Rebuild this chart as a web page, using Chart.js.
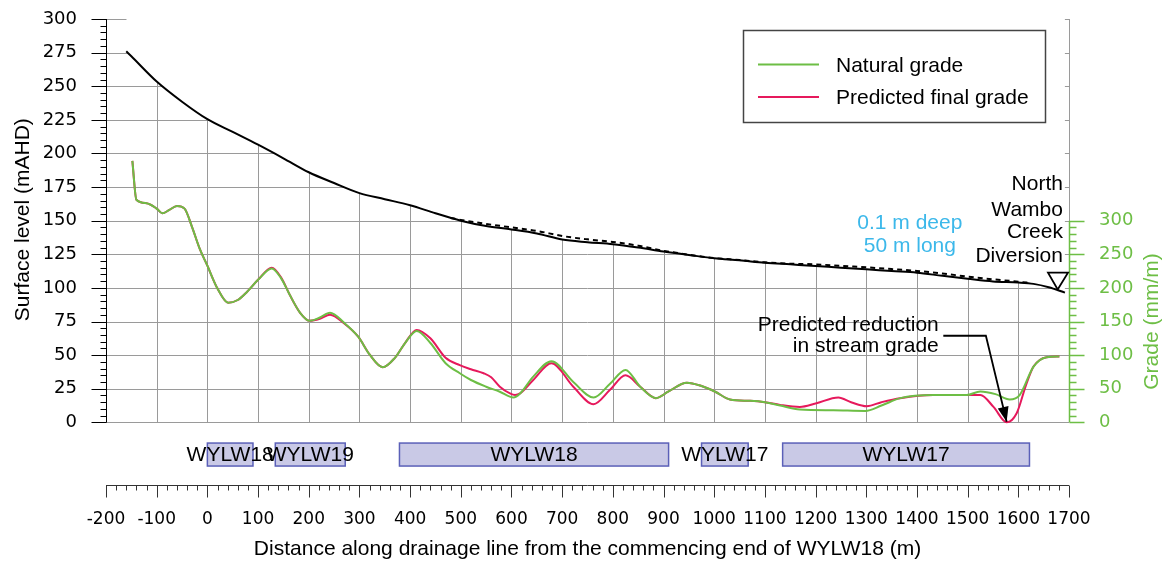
<!DOCTYPE html>
<html><head><meta charset="utf-8">
<script src="https://cdn.jsdelivr.net/npm/chart.js@4.4.1/dist/chart.umd.min.js"></script>
<style>html,body{margin:0;padding:0;background:#fff;}canvas{display:block;}</style>
</head><body>
<canvas id="c" width="1168" height="572"></canvas>
<script>
// ---------------- data ----------------
const X_MIN = -200, X_MAX = 1700;
const Y_TICKS = [0,25,50,75,100,125,150,175,200,225,250,275,300];
const G_TICKS = [0,50,100,150,200,250,300];

// predicted surface (solid black), mAHD
const SURFACE_X = [-160,-150,-100,-50,0,50,100,150,200,250,300,350,400,450,500,550,600,650,700,750,800,850,900,950,1000,1050,1100,1150,1200,1250,1300,1350,1400,1450,1500,1550,1600,1630,1660,1692];
const SURFACE_Y = [276,272.3,253.5,238.5,225.5,216,206.5,196.4,186,178,170.5,166,161.5,155.5,150,146,143.5,140.5,136,134,132.5,130,127,124.5,122,120.5,118.7,117.5,116.3,115,113.8,112.5,111.3,109,106.8,104.8,104,103,100.5,96.5];

// natural surface (dashed black), mAHD
const NATURAL_SURFACE_X = [480,500,550,600,650,700,750,800,850,900,950,1000,1050,1100,1150,1200,1250,1300,1350,1400,1450,1500,1550,1600,1625];
const NATURAL_SURFACE_Y = [152,150.6,147.6,145,142.4,138.6,136.1,134.2,131.4,127.6,124.7,122.2,120.7,119,118,117.5,116.4,115.3,114,112.6,110.7,108.4,106.4,104.6,103.6];

// natural grade (mm/m)
const NAT_GRADE_X = [-148,-140,-120,-100,-89,-75,-60,-45,-30,-15,0,20,41,60,78,100,127,145,163,183,202,222,242,270,298,320,346,370,390,413,440,470,498,520,550,577,604,617,643,679,722,762,794,825,854,885,910,946,975,1002,1031,1071,1100,1130,1169,1235,1298,1330,1367,1432,1498,1525,1555,1583,1603,1630,1656,1681];
const NAT_GRADE   = [389,331,326,318,311,316,322,318,290,258,233,199,178,182,194,212,229,215,189,163,151,156,163,148,127,101,82,96,118,136,118,88,73,63,53,45.5,37,43,68,91,60,37,57,78,53,36,46,59,54,45.5,34,32,30,25,19,18,17,25,36,40.6,40.6,46,42,34,41,83,97,98];

// predicted final grade (mm/m)
const PRED_GRADE_X = [-148,-140,-120,-100,-89,-75,-60,-45,-30,-15,0,20,41,60,78,100,127,145,163,183,202,222,242,270,298,320,346,370,390,413,440,470,498,520,545,560,577,597,607,617,643,679,722,762,794,825,854,885,910,946,975,1002,1031,1071,1100,1130,1169,1200,1245,1270,1301,1330,1367,1432,1498,1525,1551,1577,1597,1615,1630,1656,1681];
const PRED_GRADE   = [389,331,326,318,311,316,322,318,290,258,233,199,178,182,194,212,230,216,189,163,151,154,160,147,127,101,82,96,118,137.5,125,96,85,79,73,67,53,43,40.6,43,63,88,53,27,48,70,53,36,46,59,54,45.5,34,32,30,26,23,28,37,30,24,30,36,40.6,40.6,40.6,23,0,14,55,83,97,98];

// longwall panels along the drainage line
const PANEL_NAMES = ['WYLW18','WYLW19','WYLW18','WYLW17','WYLW17'];
const PANEL_START = [0,134,379,975,1135];
const PANEL_END   = [90,272,910,1067,1622];

// text
const Y_TITLE = 'Surface level (mAHD)';
const G_TITLE = 'Grade (mm/m)';
const X_TITLE = 'Distance along drainage line from the commencing end of WYLW18 (m)';
const NOTE_BLUE = ['0.1 m deep','50 m long'];
const NOTE_CREEK = ['North','Wambo','Creek','Diversion'];
const NOTE_ARROW = ['Predicted reduction','in stream grade'];

// ---------------- style ----------------
const GREEN = '#6dbe45', RED = '#e6195c', BLUE = '#3cb8ea';
const GRID = '#9a9a9a';
const FONT = '"Liberation Sans", Arial, sans-serif';
const TICKFONT = '"DejaVu Sans", sans-serif';
Chart.defaults.font.family = FONT;

const pts = (xs, ys) => xs.map((v, i) => ({x: v, y: ys[i]}));
const hiddenTicks = len => ({ display: true, drawOnChartArea: false, drawTicks: true, tickLength: len, color: 'rgba(0,0,0,0)' });

const gridPlugin = {
  id: 'profileGrid',
  beforeDatasetsDraw(chart) {
    const {ctx, scales: {x, y}} = chart;
    ctx.save();
    ctx.strokeStyle = GRID; ctx.lineWidth = 1;
    const x0 = x.getPixelForValue(X_MIN), x1 = x.getPixelForValue(X_MAX);
    const yb = y.getPixelForValue(0), yt = y.getPixelForValue(300);
    ctx.beginPath();
    for (const v of Y_TICKS) { const p = Math.round(y.getPixelForValue(v)) + 0.5; ctx.moveTo(x0, p); ctx.lineTo(x1, p); }
    for (let v = X_MIN; v <= X_MAX; v += 100) { const p = Math.round(x.getPixelForValue(v)) + 0.5; ctx.moveTo(p, yb); ctx.lineTo(p, yt); }
    ctx.stroke();
    ctx.restore();
  }
};

const decorPlugin = {
  id: 'decor',
  afterDraw(chart) {
    const {ctx, chartArea, scales: {x, y, g}} = chart;
    const X = v => x.getPixelForValue(v), Y = v => y.getPixelForValue(v), G = v => g.getPixelForValue(v);
    ctx.save();
    // left axis
    ctx.strokeStyle = '#000'; ctx.lineWidth = 1;
    const lx = Math.round(X(X_MIN)) + 0.5;
    ctx.beginPath();
    ctx.moveTo(lx, Y(0)); ctx.lineTo(lx, Y(300));
    for (let v = 0; v <= 300; v += 5) { const p = Math.round(Y(v)) + 0.5; const len = v % 25 === 0 ? 15 : 6; ctx.moveTo(lx, p); ctx.lineTo(lx - len, p); }
    ctx.stroke();
    // right axis
    ctx.strokeStyle = GREEN; ctx.lineWidth = 1.5;
    const rx = Math.round(X(X_MAX)) + 0.5;
    ctx.beginPath();
    ctx.moveTo(rx, G(0)); ctx.lineTo(rx, G(300));
    for (let v = 0; v <= 300; v += 10) { const p = Math.round(G(v)) + 0.5; const len = v % 50 === 0 ? 15 : 7; ctx.moveTo(rx, p); ctx.lineTo(rx + len, p); }
    ctx.stroke();
    // bottom axis
    ctx.strokeStyle = '#333'; ctx.lineWidth = 1;
    const by = Math.round(chartArea.bottom) + 0.5;
    ctx.beginPath();
    ctx.moveTo(X(X_MIN), by); ctx.lineTo(X(X_MAX), by);
    for (let v = X_MIN; v <= X_MAX; v += 20) { const p = Math.round(X(v)) + 0.5; const len = v % 100 === 0 ? 12 : 5; ctx.moveTo(p, by); ctx.lineTo(p, by + len); }
    ctx.stroke();

    // axis titles
    ctx.font = '21px ' + FONT; ctx.textAlign = 'center'; ctx.textBaseline = 'middle';
    ctx.fillStyle = '#000';
    ctx.save(); ctx.translate(23, (Y(0) + Y(300)) / 2 - 1); ctx.rotate(-Math.PI / 2); ctx.fillText(Y_TITLE, 0, 0); ctx.restore();
    ctx.fillStyle = GREEN;
    ctx.save(); ctx.translate(1152, (G(0) + G(300)) / 2); ctx.rotate(-Math.PI / 2); ctx.fillText(G_TITLE, 0, 0); ctx.restore();

    // panels
    const rowTop = Y(-15.4), rowBot = Y(-32.5);
    PANEL_NAMES.forEach((name, i) => {
      const a = X(PANEL_START[i]), b = X(PANEL_END[i]);
      ctx.fillStyle = '#c9c9e6'; ctx.fillRect(a, rowTop, b - a, rowBot - rowTop);
      ctx.strokeStyle = '#5b60b8'; ctx.lineWidth = 1.5; ctx.strokeRect(a, rowTop, b - a, rowBot - rowTop);
    });
    ctx.fillStyle = '#000'; ctx.textAlign = 'center'; ctx.textBaseline = 'middle';
    PANEL_NAMES.forEach((name, i) => {
      ctx.fillText(name, X((PANEL_START[i] + PANEL_END[i]) / 2), Y(-24.2));
    });

    // notes
    ctx.fillStyle = BLUE; ctx.textAlign = 'center';
    ctx.fillText(NOTE_BLUE[0], X(1386), Y(148));
    ctx.fillText(NOTE_BLUE[1], X(1386), Y(131.3));
    ctx.fillStyle = '#000'; ctx.textAlign = 'right';
    [177.1, 157.9, 141.2, 123.9].forEach((v, i) => ctx.fillText(NOTE_CREEK[i], X(1688), Y(v)));
    ctx.fillText(NOTE_ARROW[0], X(1443), Y(72));
    ctx.fillText(NOTE_ARROW[1], X(1443), Y(56.5));

    // triangle marker
    ctx.beginPath();
    ctx.moveTo(X(1658.6), Y(111.3)); ctx.lineTo(X(1698), Y(111.3)); ctx.lineTo(X(1677.7), Y(98.9)); ctx.closePath();
    ctx.fillStyle = '#fff'; ctx.fill();
    ctx.strokeStyle = '#000'; ctx.lineWidth = 1.8; ctx.stroke();

    // arrow
    const tipX = X(1577), tipY = Y(0.4);
    const cx = X(1536), cy = Y(64.4);
    ctx.beginPath(); ctx.moveTo(X(1452), cy); ctx.lineTo(cx, cy); ctx.lineTo(tipX, tipY);
    ctx.lineWidth = 1.8; ctx.stroke();
    const ang = Math.atan2(tipY - cy, tipX - cx);
    const L = 15, W = 5.5;
    ctx.beginPath();
    ctx.moveTo(tipX, tipY);
    ctx.lineTo(tipX - L * Math.cos(ang) + W * Math.sin(ang), tipY - L * Math.sin(ang) - W * Math.cos(ang));
    ctx.lineTo(tipX - L * Math.cos(ang) - W * Math.sin(ang), tipY - L * Math.sin(ang) + W * Math.cos(ang));
    ctx.closePath(); ctx.fillStyle = '#000'; ctx.fill();

    // legend
    ctx.strokeStyle = '#444'; ctx.lineWidth = 1.5;
    ctx.strokeRect(743.5, 30.5, 302, 92);
    ctx.textAlign = 'left'; ctx.textBaseline = 'alphabetic';
    const legendDs = chart.data.datasets.filter(d => d.inLegend);
    legendDs.forEach((d, i) => {
      const yy = 64.5 + i * 32.4;
      ctx.strokeStyle = d.borderColor; ctx.lineWidth = 2;
      ctx.beginPath(); ctx.moveTo(758, yy); ctx.lineTo(819, yy); ctx.stroke();
      ctx.fillStyle = '#000';
      ctx.fillText(d.label, 836, yy + 7.3);
    });
    ctx.restore();
  }
};

new Chart(document.getElementById('c'), {
  type: 'line',
  data: {
    datasets: [
      { label: 'Natural grade', inLegend: true, data: pts(NAT_GRADE_X, NAT_GRADE), yAxisID: 'g',
        borderColor: GREEN, borderWidth: 2, pointRadius: 0, cubicInterpolationMode: 'monotone', order: 0 },
      { label: 'Predicted final grade', inLegend: true, data: pts(PRED_GRADE_X, PRED_GRADE), yAxisID: 'g',
        borderColor: RED, borderWidth: 2, pointRadius: 0, cubicInterpolationMode: 'monotone', order: 1 },
      { label: 'Natural surface', data: pts(NATURAL_SURFACE_X, NATURAL_SURFACE_Y), yAxisID: 'y',
        borderColor: '#000', borderWidth: 2, borderDash: [5, 4], pointRadius: 0, cubicInterpolationMode: 'monotone', order: 2 },
      { label: 'Predicted surface', data: pts(SURFACE_X, SURFACE_Y), yAxisID: 'y',
        borderColor: '#000', borderWidth: 2, pointRadius: 0, cubicInterpolationMode: 'monotone',
        fill: 'end', backgroundColor: '#ffffff', order: 3 }
    ]
  },
  options: {
    responsive: false, animation: false, devicePixelRatio: 1, events: [],
    layout: { padding: { top: 19, left: 0, right: 0, bottom: 0 } },
    plugins: { legend: { display: false }, tooltip: { enabled: false } },
    scales: {
      x: {
        type: 'linear', min: X_MIN, max: X_MAX, position: 'bottom',
        grid: { display: false, drawTicks: false }, border: { display: false },
        ticks: { stepSize: 100, autoSkip: false, maxRotation: 0, color: '#000', padding: 24,
                 font: { family: TICKFONT, size: 17 }, callback: v => String(v) },
        title: { display: true, text: X_TITLE, color: '#000', font: { family: FONT, size: 21 }, padding: { top: 0, bottom: 10 } },
        afterFit(s) { s.height = 87; }
      },
      y: {
        type: 'linear', position: 'left', min: -46.6, max: 300,
        afterBuildTicks(s) { s.ticks = Y_TICKS.map(v => ({ value: v })); },
        grid: hiddenTicks(29), border: { display: false },
        ticks: { autoSkip: false, color: '#000', padding: 0, font: { family: TICKFONT, size: 18 } },
        afterFit(s) { s.width = 106; }
      },
      g: {
        type: 'linear', position: 'right', min: -93.2, max: 600,
        afterBuildTicks(s) { s.ticks = G_TICKS.map(v => ({ value: v })); },
        grid: hiddenTicks(30), border: { display: false },
        ticks: { autoSkip: false, color: GREEN, padding: 0, font: { family: TICKFONT, size: 18 } },
        afterFit(s) { s.width = 99; }
      }
    }
  },
  plugins: [gridPlugin, decorPlugin]
});
</script>
</body></html>
